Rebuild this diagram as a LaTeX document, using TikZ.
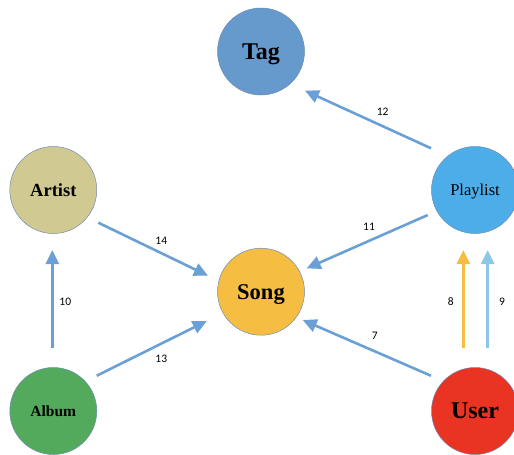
\documentclass[tikz,border=0pt]{standalone}
\usepackage{fontspec}
\setmainfont{Liberation Serif}
\newfontfamily\lblfont{Carlito}
\usetikzlibrary{arrows.meta,calc}
\definecolor{tagc}{RGB}{102,153,204}
\definecolor{artc}{RGB}{208,201,146}
\definecolor{plc}{RGB}{76,173,232}
\definecolor{songc}{RGB}{245,190,66}
\definecolor{albc}{RGB}{83,170,92}
\definecolor{userc}{RGB}{233,51,35}
\definecolor{arrc}{RGB}{106,160,213}
\definecolor{arrorange}{RGB}{245,190,66}
\definecolor{arrlight}{RGB}{140,199,230}
\definecolor{rimc}{RGB}{110,140,180}
\begin{document}
\begin{tikzpicture}[x=1pt,y=-1pt,
  ent/.style={circle,minimum size=87pt,inner sep=0pt,draw=rimc,line width=0.5pt,text depth=0pt},
  rel/.style={draw=arrc,line width=2.6pt,-{Triangle[length=14pt,width=13pt]}},
  lbl/.style={font=\lblfont\fontsize{11.5}{13}\selectfont,inner sep=0pt}]
\useasboundingbox (0,0) rectangle (514,455);
\node[ent,fill=tagc,text height=15.8pt,font=\fontsize{24}{26}\selectfont\bfseries] (tag) at (261,51.5) {Tag};
\node[ent,fill=artc,text height=12.2pt,font=\fontsize{18.5}{20}\selectfont\bfseries] (artist) at (53.3,190) {Artist};
\node[ent,fill=plc,text height=10.9pt,font=\fontsize{16.5}{18}\selectfont] (playlist) at (475,190) {Playlist};
\node[ent,fill=songc,text height=14.9pt,font=\fontsize{22.5}{24}\selectfont\bfseries] (song) at (261,291.7) {Song};
\node[ent,fill=albc,text height=10.2pt,font=\fontsize{15.5}{17}\selectfont\bfseries] (album) at (53.3,411) {Album};
\node[ent,fill=userc,text height=15.8pt,font=\fontsize{24}{26}\selectfont\bfseries] (user) at (475,411) {User};
% connectors
\draw[rel] ($(playlist.center)+(136.5:60.6pt)$) -- ($(tag.center)+(-41.7:58.9pt)$);
\draw[rel] ($(playlist.center)+(207.9:53.5pt)$) -- ($(song.center)+(27.1:51.3pt)$);
\draw[rel] ($(artist.center)+(-36:55.6pt)$) -- ($(song.center)+(163.2:55.4pt)$);
\draw[rel] ($(album.center)+(39.1:55.9pt)$) -- ($(song.center)+(208.4:61.7pt)$);
\draw[rel] ($(album.center)+(-1pt,63.3pt)$) -- ($(artist.center)+(-1pt,-60pt)$);
\draw[rel] ($(user.center)+(141.3:56.4pt)$) -- ($(song.center)+(-34.2:50.4pt)$);
\draw[rel,draw=arrorange] ($(user.center)+(-11.7pt,63.3pt)$) -- ($(playlist.center)+(-11.7pt,-60pt)$);
\draw[rel,draw=arrlight] ($(user.center)+(12.7pt,63.3pt)$) -- ($(playlist.center)+(12.7pt,-60pt)$);
% labels
\node[lbl] (l12) at (382.7,111.7) {12};
\node[lbl] (l11) at (369,226.7) {11};
\node[lbl] (l14) at (161.3,240.3) {14};
\node[lbl] (l13) at (161.3,359.3) {13};
\node[lbl] (l10) at (65.3,301.7) {10};
\node[lbl] (l8) at (450.7,301.7) {8};
\node[lbl] (l9) at (502,301.7) {9};
\node[lbl] (l7) at (374.7,335.7) {7};
\end{tikzpicture}
\end{document}
